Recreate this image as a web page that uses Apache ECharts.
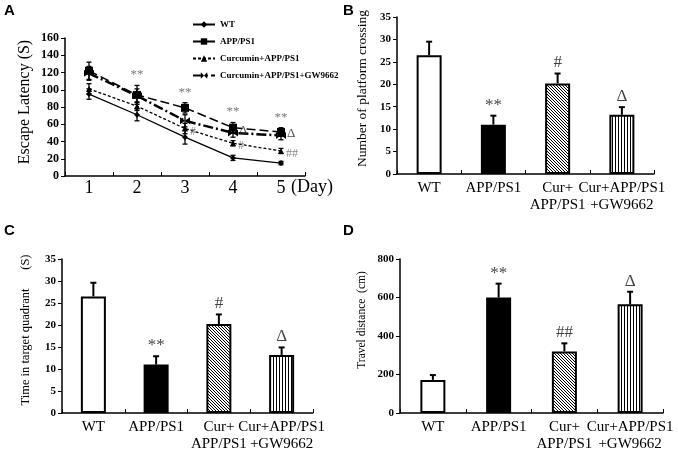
<!DOCTYPE html>
<html><head><meta charset="utf-8">
<script src="https://cdn.jsdelivr.net/npm/echarts@6/dist/echarts.min.js"></script>
<style>html,body{margin:0;padding:0;background:#fff}#c{width:678px;height:453px}</style>
</head><body><div id="c"></div>
<script>
// ---- Panel A data ----
const days = ['1', '2', '3', '4', '5'];
const seriesNames = ['WT', 'APP/PS1', 'Curcumin+APP/PS1', 'Curcumin+APP/PS1+GW9662'];
const wtLatency = [95, 71, 45, 21, 15];
const wtErr = [6, 7, 8, 3, 2];
const appLatency = [122, 94, 79, 56, 51];
const appErr = [10, 11, 6, 6, 5];
const curLatency = [101, 81, 55, 38, 29];
const curErr = [6, 5, 6, 3, 3];
const gwLatency = [119, 93, 64, 50, 47];
const gwErr = [8, 8, 7, 5, 5];
const latencyStars = ['', '**', '**', '**', '**'];
const latencyHash = ['', '', '#', '#', '##'];
const latencyDelta = ['', '', '', '\u0394', '\u0394'];
const latencyTicks = [0, 20, 40, 60, 80, 100, 120, 140, 160];

// ---- Panels B, C, D data ----
const groups = ['WT', 'APP/PS1', 'Cur+\nAPP/PS1', 'Cur+APP/PS1\n+GW9662'];
const crossing = [26.5, 11, 20.2, 13.2];
const crossingErr = [3, 2, 2.2, 1.7];
const crossingMarks = ['', '**', '#', '\u0394'];
const timeQuad = [26.5, 11, 20.2, 13.2];
const timeErr = [3.1, 1.9, 2.2, 1.7];
const timeMarks = ['', '**', '#', '\u0394'];
const travel = [172, 600, 320, 565];
const travelErr = [25, 72, 42, 65];
const travelMarks = ['', '**', '##', '\u0394'];

const SERIF = '"Liberation Serif","Times New Roman",serif';
const SANS = '"Liberation Sans",Arial,sans-serif';

function makePattern(kind) {
  const c = document.createElement('canvas');
  c.width = 3; c.height = 3;
  const g = c.getContext('2d');
  g.fillStyle = '#fff'; g.fillRect(0, 0, 3, 3);
  g.fillStyle = '#000';
  if (kind === 'v') {
    g.fillRect(0, 0, 1, 3);
  } else {
    g.fillRect(0, 0, 1, 1); g.fillRect(1, 1, 1, 1); g.fillRect(2, 2, 1, 1);
  }
  return { image: c, repeat: 'repeat' };
}
const barFills = ['#fff', '#000', makePattern('d'), makePattern('v')];

const chart = echarts.init(document.getElementById('c'), null, { renderer: 'canvas' });

function errSeries(gi, means, errs, both, capW, lw) {
  return {
    type: 'custom', xAxisIndex: gi, yAxisIndex: gi, z: 5, silent: true,
    data: means.map((m, i) => [i, m, errs[i]]),
    renderItem: function (params, api) {
      const i = api.value(0), m = api.value(1), e = api.value(2);
      const top = api.coord([i, m + e]);
      const bot = api.coord([i, both ? m - e : m]);
      const st = { stroke: '#000', lineWidth: lw };
      const ch = [
        { type: 'line', shape: { x1: top[0], y1: top[1], x2: bot[0], y2: bot[1] }, style: st },
        { type: 'line', shape: { x1: top[0] - capW / 2, y1: top[1], x2: top[0] + capW / 2, y2: top[1] }, style: st }
      ];
      if (both) ch.push({ type: 'line', shape: { x1: bot[0] - capW / 2, y1: bot[1], x2: bot[0] + capW / 2, y2: bot[1] }, style: st });
      return { type: 'group', children: ch };
    }
  };
}

function markSeries(gi, values, marks, position, offset, size, color) {
  return {
    type: 'scatter', xAxisIndex: gi, yAxisIndex: gi, symbolSize: 0, silent: true, z: 6,
    data: values,
    label: {
      show: true, position: position, distance: 2, offset: offset,
      formatter: p => marks[p.dataIndex],
      fontFamily: SERIF, fontSize: size, color: color
    }
  };
}

function barPanelAxes(gi, name, nameGap, nameSize, namePad, max, interval) {
  return {
    x: {
      type: 'category', gridIndex: gi, data: groups,
      axisLine: { lineStyle: { color: '#000', width: 1.5 } },
      axisTick: { show: true, inside: true, length: 4, lineStyle: { color: '#000' } },
      axisLabel: { color: '#000', fontFamily: SERIF, fontSize: 15, lineHeight: 17, margin: 6, interval: 0 }
    },
    y: {
      type: 'value', gridIndex: gi, min: 0, max: max, interval: interval,
      name: name, nameLocation: 'middle', nameGap: nameGap,
      nameTextStyle: { fontFamily: SERIF, fontSize: nameSize, color: '#000', padding: [0, 0, 0, namePad] },
      axisLine: { show: true, lineStyle: { color: '#000', width: 1.5 } },
      axisTick: { show: true, length: 4, lineStyle: { color: '#000' } },
      splitLine: { show: false },
      axisLabel: { color: '#000', fontFamily: SERIF, fontWeight: 'bold', fontSize: 11, margin: 6 }
    }
  };
}

function barSeries(gi, values) {
  return {
    type: 'bar', xAxisIndex: gi, yAxisIndex: gi, barWidth: 25,
    data: values.map((v, i) => ({ value: v, itemStyle: { color: barFills[i], borderColor: '#000', borderWidth: 2 } }))
  };
}

const bAx = barPanelAxes(1, 'Number of platform crossing', 28, 13.5, 14, 35, 5);
const cAx = barPanelAxes(2, 'Time in target quadrant      (S)', 30, 12.5, 12, 35, 5);
const dAx = barPanelAxes(3, 'Travel distance  (cm)', 32, 11.5, 32, 800, 200);

const lineBase = (name, data, sym, size, lw, type) => ({
  name: name, type: 'line', xAxisIndex: 0, yAxisIndex: 0, data: data,
  symbol: sym, symbolSize: size, z: 4,
  itemStyle: { color: '#000' },
  lineStyle: { color: '#000', width: lw, type: type }
});

const option = {
  animation: false,
  backgroundColor: '#fff',
  grid: [
    { left: 65, right: 373, top: 38, bottom: 277 },
    { left: 397, right: 24, top: 17, bottom: 279 },
    { left: 62, right: 365, top: 259, bottom: 39 },
    { left: 400, right: 15, top: 259, bottom: 39 }
  ],
  legend: {
    data: seriesNames, orient: 'vertical', left: 187, top: 15, itemGap: 8,
    itemWidth: 22, itemHeight: 8,
    textStyle: { fontFamily: SERIF, fontWeight: 'bold', fontSize: 9, color: '#000' }
  },
  xAxis: [
    {
      type: 'category', gridIndex: 0, data: days,
      name: '(Day)', nameLocation: 'end', nameGap: -14,
      nameTextStyle: { fontFamily: SERIF, fontSize: 18, color: '#000', verticalAlign: 'top', padding: [2, 0, 0, 0] },
      axisLine: { lineStyle: { color: '#000', width: 1.5 } },
      axisTick: { show: true, inside: true, length: 4, lineStyle: { color: '#000' } },
      axisLabel: { color: '#000', fontFamily: SERIF, fontSize: 18, margin: 3 }
    },
    bAx.x, cAx.x, dAx.x
  ],
  yAxis: [
    {
      type: 'value', gridIndex: 0, min: latencyTicks[0], max: latencyTicks[latencyTicks.length - 1], interval: 20,
      name: 'Escape Latency (S)', nameLocation: 'middle', nameGap: 32,
      nameTextStyle: { fontFamily: SERIF, fontSize: 16, color: '#000', padding: [0, 0, 0, 10] },
      axisLine: { show: true, lineStyle: { color: '#000', width: 1.5 } },
      axisTick: { show: true, length: 4, lineStyle: { color: '#000' } },
      splitLine: { show: false },
      axisLabel: { color: '#000', fontFamily: SERIF, fontWeight: 'bold', fontSize: 12, margin: 6 }
    },
    bAx.y, cAx.y, dAx.y
  ],
  graphic: [
    { type: 'text', left: 4, top: 3, style: { text: 'A', font: 'bold 15px ' + SANS, fill: '#000' } },
    { type: 'text', left: 343, top: 3, style: { text: 'B', font: 'bold 15px ' + SANS, fill: '#000' } },
    { type: 'text', left: 4, top: 223, style: { text: 'C', font: 'bold 15px ' + SANS, fill: '#000' } },
    { type: 'text', left: 343, top: 223, style: { text: 'D', font: 'bold 15px ' + SANS, fill: '#000' } }
  ],
  series: [
    lineBase('WT', wtLatency, 'diamond', 6, 1.3, 'solid'),
    lineBase('APP/PS1', appLatency, 'rect', 8, 1.5, [9, 4]),
    lineBase('Curcumin+APP/PS1', curLatency, 'triangle', 6, 1.3, [3, 2]),
    lineBase('Curcumin+APP/PS1+GW9662', gwLatency, 'path://M0,0 L10,5 L0,10 Z M20,0 L10,5 L20,10 Z', [10, 7], 2.5, [10, 3, 2, 3]),
    errSeries(0, wtLatency, wtErr, true, 5, 1.3),
    errSeries(0, appLatency, appErr, true, 5, 1.3),
    errSeries(0, curLatency, curErr, true, 5, 1.3),
    errSeries(0, gwLatency, gwErr, true, 5, 1.3),
    markSeries(0, appLatency.map((v, i) => v + appErr[i]), latencyStars, 'top', [0, -2], 13, '#555'),
    markSeries(0, curLatency, latencyHash, 'right', [3, 3], 12, '#666'),
    markSeries(0, gwLatency, latencyDelta, 'right', [4, -2], 13, '#222'),

    barSeries(1, crossing),
    errSeries(1, crossing, crossingErr, false, 6, 2),
    markSeries(1, crossing.map((v, i) => v + crossingErr[i]), crossingMarks, 'top', [0, 0], 17, '#111'),

    barSeries(2, timeQuad),
    errSeries(2, timeQuad, timeErr, false, 6, 2),
    markSeries(2, timeQuad.map((v, i) => v + timeErr[i]), timeMarks, 'top', [0, 0], 17, '#111'),

    barSeries(3, travel),
    errSeries(3, travel, travelErr, false, 6, 2),
    markSeries(3, travel.map((v, i) => v + travelErr[i]), travelMarks, 'top', [0, 0], 17, '#111')
  ]
};
chart.setOption(option);
</script></body></html>
